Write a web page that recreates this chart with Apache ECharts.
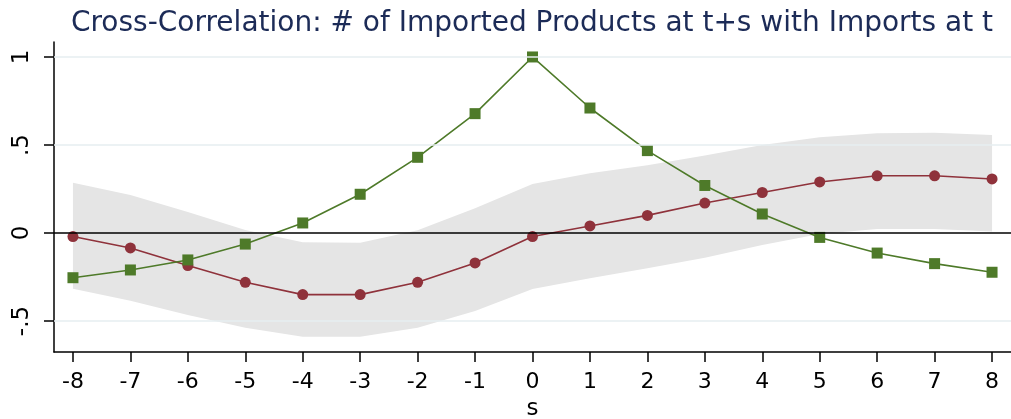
<!DOCTYPE html>
<html>
<head>
<meta charset="utf-8">
<script src="https://cdn.jsdelivr.net/npm/echarts@6/dist/echarts.min.js"></script>
<style>
html,body{margin:0;padding:0;background:#fff;overflow:hidden;}
#main{width:1011px;height:419px;}
</style>
</head>
<body>
<div id="main"></div>
<script>
var lags = [-8,-7,-6,-5,-4,-3,-2,-1,0,1,2,3,4,5,6,7,8];
var corrExports = [-0.02,-0.085,-0.185,-0.28,-0.35,-0.35,-0.28,-0.17,-0.02,0.04,0.10,0.17,0.23,0.29,0.325,0.325,0.307];
var corrProducts = [-0.254,-0.21,-0.153,-0.063,0.057,0.22,0.43,0.678,1.0,0.71,0.468,0.27,0.108,-0.025,-0.114,-0.174,-0.223];
var bandLower = [-0.316,-0.385,-0.466,-0.538,-0.59,-0.59,-0.538,-0.443,-0.318,-0.257,-0.2,-0.14,-0.068,-0.006,0.023,0.023,0.008];
var bandUpper = [0.286,0.216,0.12,0.017,-0.053,-0.055,0.015,0.14,0.278,0.339,0.385,0.44,0.5,0.544,0.566,0.57,0.557];
var xTicks = [-8,-7,-6,-5,-4,-3,-2,-1,0,1,2,3,4,5,6,7,8];
var yTicks = [-0.5,0,0.5,1];
var titleText = 'Cross-Correlation: # of Imported Products at t+s with Imports at t';
var xName = 's';

function pairs(vals){ return lags.map(function(l,i){ return [l, vals[i]]; }); }
var bandData = lags.map(function(l,i){ return [l, bandLower[i], bandUpper[i]]; });

var chart = echarts.init(document.getElementById('main'));
var font = '"DejaVu Sans", sans-serif';
chart.setOption({
  animation:false,
  backgroundColor:'#ffffff',
  title:{
    text:titleText,
    left:527, top:5, textAlign:'center',
    textStyle:{fontFamily:font, fontSize:28, fontWeight:'normal', color:'#1c2b57'}
  },
  grid:{left:54, right:0, top:42, bottom:67, containLabel:false, outerBoundsMode:'none'},
  xAxis:{
    type:'value', min:-8.33, max:8.33,
    name:xName, nameLocation:'middle', nameGap:42,
    nameTextStyle:{fontFamily:font, fontSize:23, color:'#000'},
    axisLine:{onZero:false, lineStyle:{color:'#000', width:1.5}},
    axisTick:{customValues:xTicks, length:10, lineStyle:{color:'#000', width:1.5}},
    axisLabel:{customValues:xTicks, margin:19, fontFamily:font, fontSize:22, color:'#000'},
    splitLine:{show:false}
  },
  yAxis:{
    type:'value', min:-0.676, max:1.085,
    axisLine:{show:true, onZero:false, lineStyle:{color:'#000', width:1.5}},
    axisTick:{show:true, customValues:yTicks, length:10, lineStyle:{color:'#000', width:1.5}},
    axisLabel:{customValues:yTicks, rotate:90, margin:20, fontFamily:font, fontSize:23, color:'#000',
      formatter:function(v){ if(v===0) return '0'; return String(v).replace('0.', '.'); }},
    splitLine:{show:false}
  },
  series:[
    {
      type:'line', data:[], symbol:'none', silent:true, z:1,
      markLine:{
        silent:true, symbol:'none', label:{show:false}, animation:false,
        data:[
          {yAxis:1, lineStyle:{color:'#e6eef1', width:1.5, type:'solid'}},
          {yAxis:0.5, lineStyle:{color:'#e6eef1', width:1.5, type:'solid'}},
          {yAxis:-0.5, lineStyle:{color:'#e6eef1', width:1.5, type:'solid'}},
          {yAxis:0, lineStyle:{color:'#000', width:1.5, type:'solid'}}
        ]
      }
    },
    {
      type:'custom', data:bandData, silent:true, z:2,
      renderItem:function(params, api){
        if(params.dataIndex !== 0) return null;
        var pts = [];
        for(var i=0;i<lags.length;i++) pts.push(api.coord([lags[i], bandUpper[i]]));
        for(var j=lags.length-1;j>=0;j--) pts.push(api.coord([lags[j], bandLower[j]]));
        return {type:'polygon', shape:{points:pts}, style:{fill:'#e5e5e5', stroke:null}};
      }
    },
    {
      type:'line', data:pairs(corrExports), symbol:'circle', symbolSize:11,
      itemStyle:{color:'#8f323b'}, lineStyle:{color:'#8f323b', width:1.6}, z:3
    },
    {
      type:'line', data:pairs(corrProducts), symbol:'rect', symbolSize:11,
      itemStyle:{color:'#4e7a29'}, lineStyle:{color:'#4e7a29', width:1.6}, z:4
    }
  ]
});
</script>
</body>
</html>
